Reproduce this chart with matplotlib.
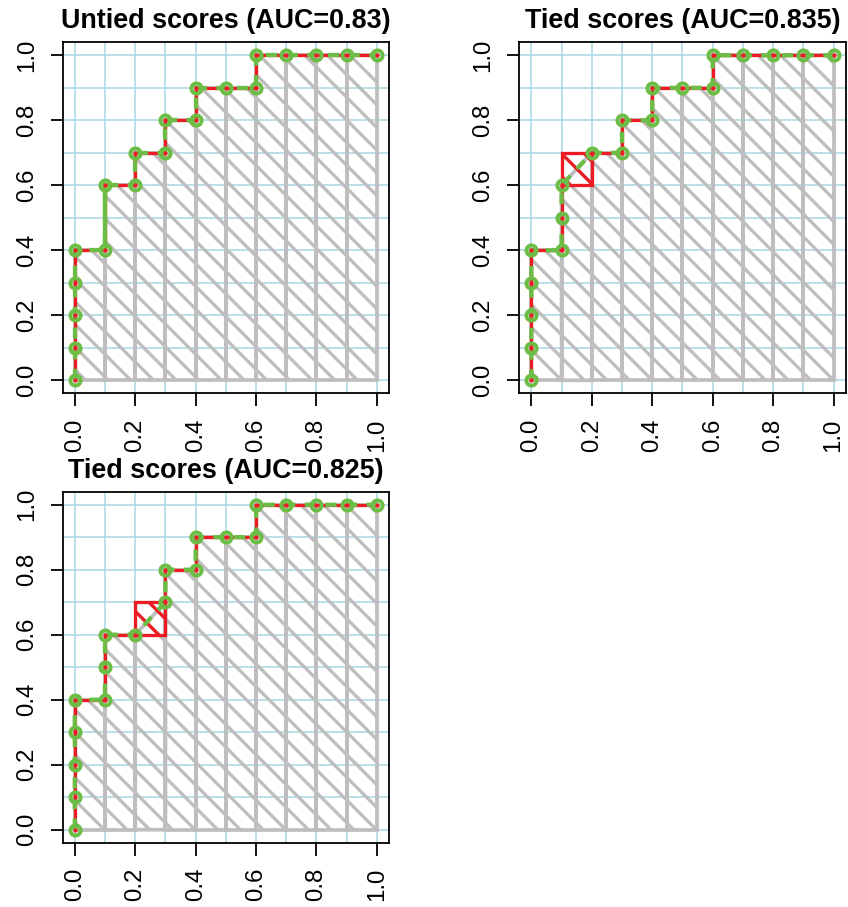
import matplotlib
matplotlib.use('Agg')
import numpy as np
import matplotlib.pyplot as plt
from matplotlib.patches import Polygon, Rectangle
from matplotlib.ticker import FormatStrFormatter

# dpi picked so that the single '\\' hatch gives ~22.7 px spacing
DPI = 68


def pt(px):
    return px * 72.0 / DPI


plt.rcParams['font.family'] = ['Liberation Sans', 'DejaVu Sans']
plt.rcParams['hatch.linewidth'] = pt(3.3)

GREEN = '#6cbd45'
RED = '#ed1c24'
GRAY = '#bebebe'
LIGHTBLUE = '#add8e6'

titles = ['Untied scores (AUC=0.83)',
          'Tied scores (AUC=0.835)',
          'Tied scores (AUC=0.825)']

fpr_untied = [0, 0, 0, 0, 0, 0.1, 0.1, 0.2, 0.2, 0.3, 0.3, 0.4, 0.4, 0.5, 0.6, 0.6, 0.7, 0.8, 0.9, 1.0]
tpr_untied = [0, 0.1, 0.2, 0.3, 0.4, 0.4, 0.6, 0.6, 0.7, 0.7, 0.8, 0.8, 0.9, 0.9, 0.9, 1, 1, 1, 1, 1]

fpr_tied1 = [0, 0, 0, 0, 0, 0.1, 0.1, 0.1, 0.2, 0.3, 0.3, 0.4, 0.4, 0.5, 0.6, 0.6, 0.7, 0.8, 0.9, 1.0]
tpr_tied1 = [0, 0.1, 0.2, 0.3, 0.4, 0.4, 0.5, 0.6, 0.7, 0.7, 0.8, 0.8, 0.9, 0.9, 0.9, 1, 1, 1, 1, 1]

fpr_tied2 = [0, 0, 0, 0, 0, 0.1, 0.1, 0.1, 0.2, 0.3, 0.3, 0.4, 0.4, 0.5, 0.6, 0.6, 0.7, 0.8, 0.9, 1.0]
tpr_tied2 = [0, 0.1, 0.2, 0.3, 0.4, 0.4, 0.5, 0.6, 0.6, 0.7, 0.8, 0.8, 0.9, 0.9, 0.9, 1, 1, 1, 1, 1]

# tie boxes (x0, y0, x1, y1)
tie_tied1 = [0.1, 0.6, 0.2, 0.7]
tie_tied2 = [0.2, 0.6, 0.3, 0.7]

# solid green piece in the untied curve
solid_untied = ([0.1, 0.1], [0.4, 0.6])

grid_vals = np.arange(0, 1.01, 0.1)
tick_vals = np.arange(0, 1.01, 0.2)


def draw_roc(ax, fpr, tpr, title, tie=None, solid=None):
    fpr = np.asarray(fpr)
    tpr = np.asarray(tpr)
    ax.set_xlim(-0.04, 1.04)
    ax.set_ylim(-0.04, 1.04)

    for v in grid_vals:
        ax.axvline(v, color=LIGHTBLUE, lw=pt(1.6), zorder=0)
        ax.axhline(v, color=LIGHTBLUE, lw=pt(1.6), zorder=0)

    # hatched area under the curve, one polygon per x step
    for i in range(len(fpr) - 1):
        if fpr[i + 1] > fpr[i]:
            pts = [(fpr[i], 0), (fpr[i], tpr[i]), (fpr[i + 1], tpr[i + 1]), (fpr[i + 1], 0)]
            ax.add_patch(Polygon(pts, closed=True, fill=False, edgecolor=GRAY,
                                 hatch='\\', lw=pt(3.75), zorder=2))

    if tie is not None:
        x0, y0, x1, y1 = tie
        ax.add_patch(Rectangle((x0, y0), x1 - x0, y1 - y0, fill=False,
                               edgecolor=RED, hatch='\\', lw=pt(3.3), zorder=3))

    # red step line, broken at diagonal (tied) segments
    rx, ry = [fpr[0]], [tpr[0]]
    for i in range(len(fpr) - 1):
        if fpr[i + 1] > fpr[i] and tpr[i + 1] > tpr[i]:
            rx += [np.nan, fpr[i + 1]]
            ry += [np.nan, tpr[i + 1]]
        else:
            rx.append(fpr[i + 1])
            ry.append(tpr[i + 1])
    ax.plot(rx, ry, color=RED, lw=pt(3.3), zorder=4, solid_capstyle='butt')

    ax.plot(fpr, tpr, color=GREEN, lw=pt(4.3), dashes=(2.6, 2.2), zorder=5,
            dash_capstyle='butt')
    if solid is not None:
        ax.plot(solid[0], solid[1], color=GREEN, lw=pt(4.3), zorder=5)

    ax.plot(fpr, tpr, 'o', ms=pt(10.2), mfc='none', mec=GREEN, mew=pt(3.9), zorder=6)
    ax.plot(fpr, tpr, 'o', ms=pt(4.3), color=RED, mew=0, zorder=7)

    ax.set_xticks(tick_vals)
    ax.set_yticks(tick_vals)
    ax.xaxis.set_major_formatter(FormatStrFormatter('%.1f'))
    ax.yaxis.set_major_formatter(FormatStrFormatter('%.1f'))
    ax.tick_params(length=pt(12.5), width=pt(1.8), pad=pt(12.5), labelsize=pt(24),
                   direction='out', labelrotation=90)
    for lab in ax.get_yticklabels():
        lab.set_va('center')
    for s in ax.spines.values():
        s.set_linewidth(pt(1.8))
        s.set_color('black')
    ax.set_title(title, fontsize=pt(26.9), fontweight='bold', pad=pt(14))


W, H = 848, 907
fig = plt.figure(figsize=(W / DPI, H / DPI), dpi=DPI)
w = 326.3 / W
h = 351.0 / H
ax1 = fig.add_axes([62.7 / W, 1 - 393.3 / H, w, h])
ax2 = fig.add_axes([519.3 / W, 1 - 393.3 / H, w, h])
ax3 = fig.add_axes([62.7 / W, 1 - 842.7 / H, w, h])

draw_roc(ax1, fpr_untied, tpr_untied, titles[0], solid=solid_untied)
draw_roc(ax2, fpr_tied1, tpr_tied1, titles[1], tie=tie_tied1)
draw_roc(ax3, fpr_tied2, tpr_tied2, titles[2], tie=tie_tied2)

fig.savefig('out.png', dpi=DPI)
